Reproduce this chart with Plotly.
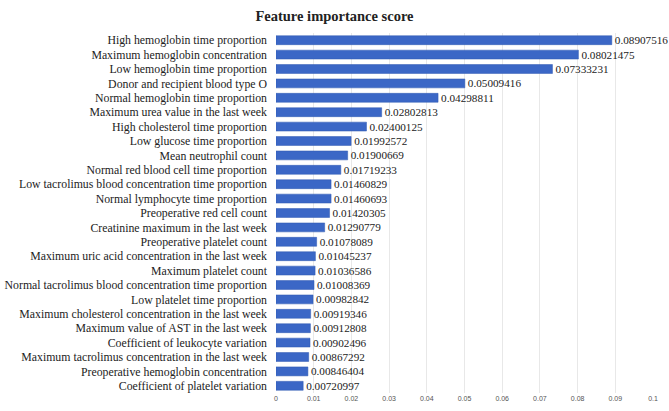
import plotly.graph_objects as go

features = [
    "High hemoglobin time proportion",
    "Maximum hemoglobin concentration",
    "Low hemoglobin time proportion",
    "Donor and recipient blood type O",
    "Normal hemoglobin time proportion",
    "Maximum urea value in the last week",
    "High cholesterol time proportion",
    "Low glucose time proportion",
    "Mean neutrophil count",
    "Normal red blood cell time proportion",
    "Low tacrolimus blood concentration time proportion",
    "Normal lymphocyte time proportion",
    "Preoperative red cell count",
    "Creatinine maximum in the last week",
    "Preoperative platelet count",
    "Maximum uric acid concentration in the last week",
    "Maximum platelet count",
    "Normal tacrolimus blood concentration time proportion",
    "Low platelet time proportion",
    "Maximum cholesterol concentration in the last week",
    "Maximum value of AST in the last week",
    "Coefficient of leukocyte variation",
    "Maximum tacrolimus concentration in the last week",
    "Preoperative hemoglobin concentration",
    "Coefficient of platelet variation",
]
scores = [
    0.08907516, 0.08021475, 0.07333231, 0.05009416, 0.04298811, 0.02802813,
    0.02400125, 0.01992572, 0.01900669, 0.01719233, 0.01460829, 0.01460693,
    0.01420305, 0.01290779, 0.01078089, 0.01045237, 0.01036586, 0.01008369,
    0.00982842, 0.00919346, 0.00912808, 0.00902496, 0.00867292, 0.00846404,
    0.00720997,
]
tick_vals = [0, 0.01, 0.02, 0.03, 0.04, 0.05, 0.06, 0.07, 0.08, 0.09, 0.1]
tick_text = ["0", "0.01", "0.02", "0.03", "0.04", "0.05", "0.06", "0.07", "0.08", "0.09", "0.1"]

serif = "Liberation Serif, Times New Roman, serif"

fig = go.Figure(go.Bar(
    x=scores,
    y=features,
    orientation="h",
    marker=dict(color="#3b67c6", line=dict(color="#2f58b0", width=0.5)),
    text=[f"{v:.8f}" for v in scores],
    textposition="outside",
    constraintext="none",
    cliponaxis=False,
    outsidetextfont=dict(family=serif, size=11.2, color="#222222"),
    textfont=dict(family=serif, size=11.2, color="#222222"),
))

fig.update_layout(
    width=669, height=411,
    margin=dict(l=276, r=16, t=33, b=18),
    paper_bgcolor="white",
    plot_bgcolor="white",
    bargap=0.38,
    showlegend=False,
    uniformtext=dict(minsize=11, mode="show"),
    title=dict(
        text="<b>Feature importance score</b>",
        x=0.5, xanchor="center", xref="container",
        y=0.962, yanchor="middle",
        font=dict(family=serif, size=14.5, color="#222222"),
    ),
    xaxis=dict(
        range=[0, 0.1],
        tickvals=tick_vals,
        ticktext=tick_text,
        showgrid=True,
        gridcolor="#e8e8e8",
        gridwidth=1,
        zeroline=False,
        showline=False,
        automargin=False,
        tickfont=dict(family="Liberation Sans, Arial, sans-serif", size=7, color="#555555"),
        ticks="",
    ),
    yaxis=dict(
        categoryorder="array",
        categoryarray=features[::-1],
        tickmode="array",
        tickvals=features,
        ticktext=features,
        automargin=False,
        ticklabelstandoff=8,
        tickfont=dict(family=serif, size=11.8, color="#222222"),
        ticks="",
        showgrid=False,
        showline=False,
    ),
)

fig.write_html("out.html")
